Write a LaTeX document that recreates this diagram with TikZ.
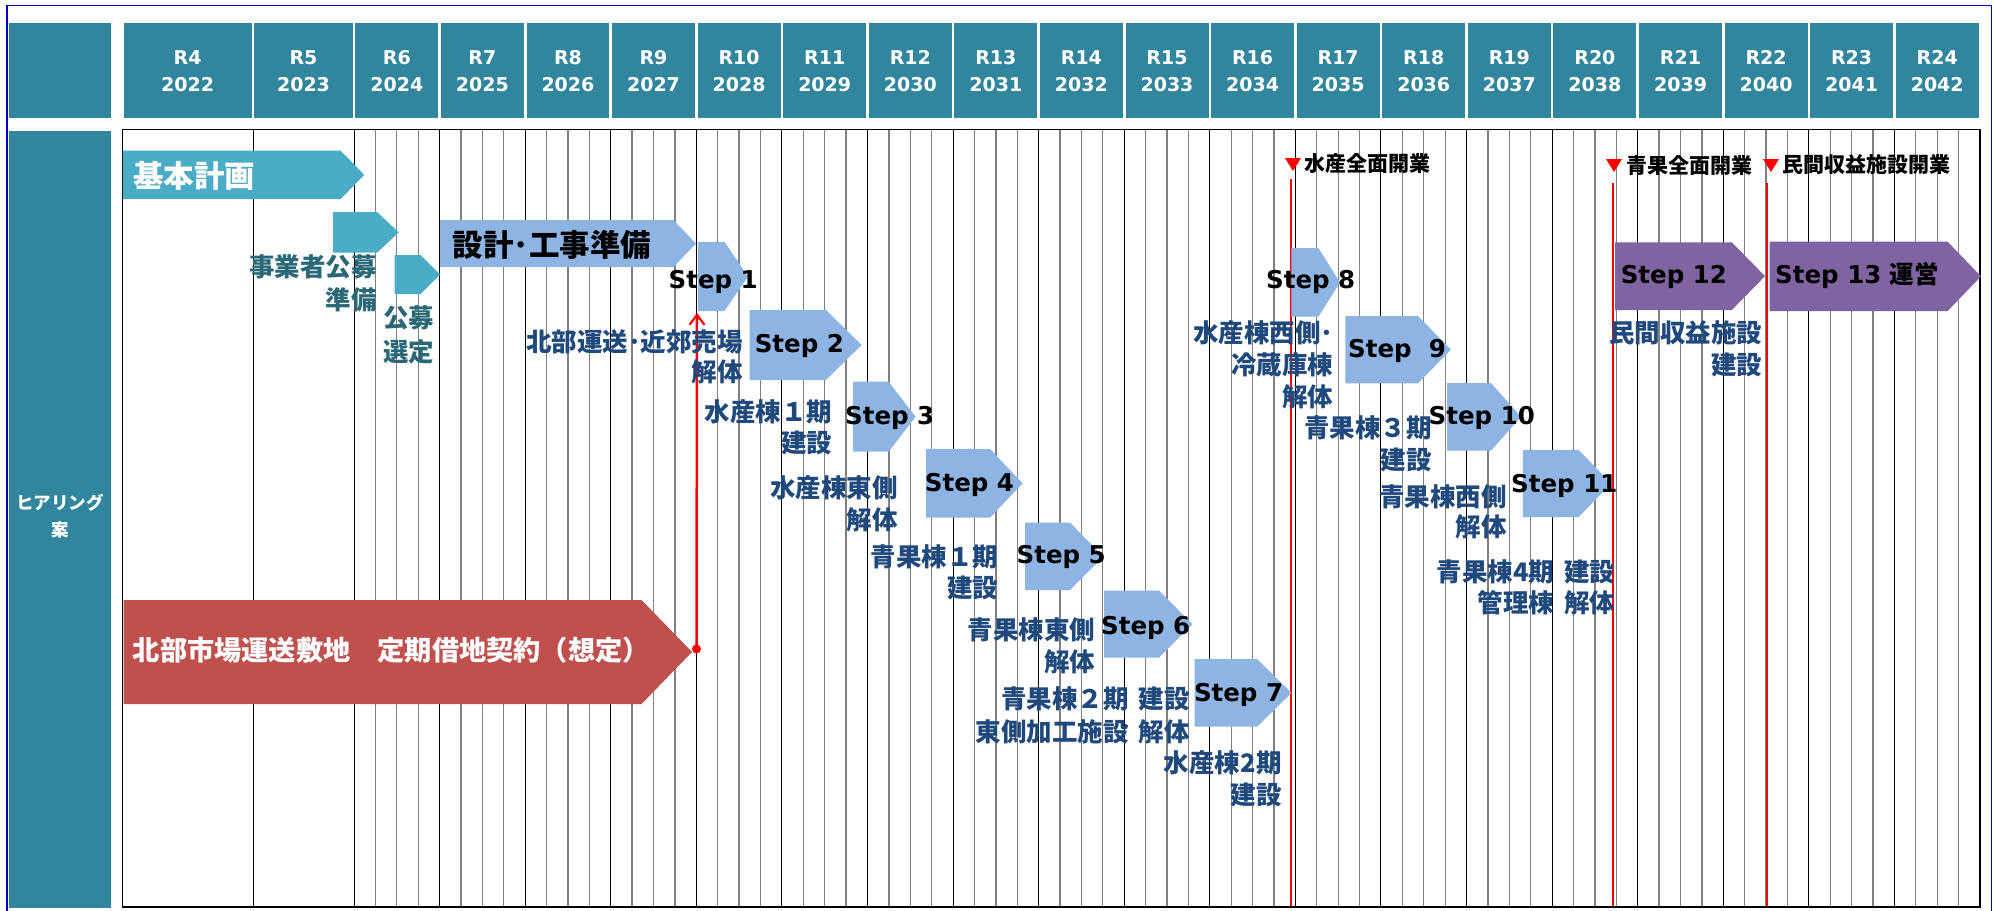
\documentclass[tikz,border=0pt]{standalone}
\usepackage{fontspec}
\setmainfont{DejaVu Sans}
\newfontfamily\jp{Noto Sans CJK JP}
\usetikzlibrary{arrows.meta}
\definecolor{hdrteal}{HTML}{31859C}
\definecolor{planteal}{HTML}{4BACC6}
\definecolor{stepblue}{HTML}{8DB4E2}
\definecolor{steppurple}{HTML}{8064A2}
\definecolor{leasered}{HTML}{C0504D}
\definecolor{labblue}{HTML}{1F497D}
\definecolor{labteal}{HTML}{2A6877}
\definecolor{quartergray}{HTML}{808080}
\definecolor{frameblue}{HTML}{0000C0}
\newcommand\chevshape[6]{\fill[#1] (#2,#3) -- (#5,#3) -- (#6,{(#3+#4)/2}) -- (#5,#4) -- (#2,#4) -- cycle;}
\tikzset{
  yrtxt/.style={text=white, font=\bfseries\fontsize{19}{27}\selectfont, align=center, inner sep=0pt},
  lab/.style={text=labblue, font=\jp\bfseries\fontsize{25.5}{30}\selectfont, inner sep=0pt, anchor=east},
  labt/.style={lab, text=labteal},
  steptxt/.style={text=black, font=\bfseries\fontsize{24.5}{28}\selectfont, inner sep=0pt, anchor=west},
  mile/.style={text=black, font=\jp\bfseries\fontsize{21}{24}\selectfont, inner sep=0pt, anchor=west},
  mileline/.style={draw=red, line width=2.4pt},
  yearline/.style={draw=black, line width=1pt},
  qline/.style={draw=quartergray, line width=1.3pt},
  hdrcell/.style={fill=hdrteal},
}
\begin{document}
\begin{tikzpicture}[x=1pt,y=-1pt]
\useasboundingbox (0,0) rectangle (1993,910);
\fill[white] (0,0) rectangle (1993,910);
% outer border
\draw[frameblue, line width=1.2pt] (7,914) -- (7,5.5) -- (1991.5,5.5) -- (1991.5,914);
% header
\fill[hdrcell] (8.5,23) rectangle (111,118);
\foreach \r/\a/\b in {4/122.3/253, 5/253/354, 6/354/439.6, 7/439.6/525.2, 8/525.2/610.7, 9/610.7/696.3, 10/696.3/781.9, 11/781.9/867.5, 12/867.5/953.1, 13/953.1/1038.6, 14/1038.6/1124.2, 15/1124.2/1209.8, 16/1209.8/1295.4, 17/1295.4/1380.9, 18/1380.9/1466.5, 19/1466.5/1552.1, 20/1552.1/1637.7, 21/1637.7/1723.3, 22/1723.3/1808.8, 23/1808.8/1894.4, 24/1894.4/1980}{
  \fill[hdrcell] ({\a+1.3},23) rectangle ({\b-1.3},118);
  \pgfmathtruncatemacro\yy{2018+\r}
  \node[yrtxt] (yr\r) at ({(\a+\b)/2},71.5) {R\r\\\yy};
}
% left body cell
\fill[hdrcell] (8.5,131) rectangle (111,908);
\node[text=white, font=\jp\bfseries\fontsize{17.5}{27}\selectfont, align=center, inner sep=0pt] (hear) at (60,516.5) {ヒアリング\\案};
% grid
\foreach \k in {1,...,75}{
  \pgfmathtruncatemacro\m{mod(\k,4)}
  \ifnum\m=0\relax\else
    \draw[qline] ({354+\k*85.5789/4},129.5) -- ({354+\k*85.5789/4},906.7);
  \fi
}
\draw[yearline] (253,129.5) -- (253,906.7);
\foreach \k in {0,...,18}{
  \draw[yearline] ({354+\k*85.5789},129.5) -- ({354+\k*85.5789},906.7);
}
\draw[black, line width=1.6pt] (122.3,129.5) rectangle (1980,906.7);
% milestone lines
\draw[mileline] (1291,179) -- (1291,906);
\draw[mileline] (1613,183) -- (1613,906);
\draw[mileline] (1767,183) -- (1767,906);
\fill[red] (1285,158) -- (1301,158) -- (1293,171) -- cycle;
\fill[red] (1606,159) -- (1622,159) -- (1614,172) -- cycle;
\fill[red] (1763,159) -- (1779,159) -- (1771,172) -- cycle;
\node[mile] (m1) at (1303.8,163) {水産全面開業};
\node[mile] (m2) at (1626,165) {青果全面開業};
\node[mile] (m3) at (1782.5,165) {民間収益施設開業};
% shapes
\chevshape{planteal}{122.8}{150.7}{199}{340.7}{364.3}
\chevshape{planteal}{333}{212}{252.7}{377}{398.8}
\chevshape{planteal}{394.6}{255}{294}{420.7}{440}
\chevshape{stepblue}{440}{220}{267}{673.4}{696}
\chevshape{stepblue}{698}{242}{311}{724.5}{748}
\chevshape{stepblue}{749.6}{310}{380}{826}{861.6}
\chevshape{stepblue}{853}{381.7}{451.7}{888.6}{915.6}
\chevshape{stepblue}{926}{449}{517.7}{990}{1022.6}
\chevshape{stepblue}{1025}{522.7}{590}{1070}{1103.3}
\chevshape{stepblue}{1104}{590.7}{657.7}{1159}{1192.4}
\chevshape{stepblue}{1194.6}{659}{726.7}{1257}{1291.5}
\chevshape{stepblue}{1291.4}{248}{316.7}{1318.4}{1340}
\chevshape{stepblue}{1345.4}{316}{383.3}{1418}{1451}
\chevshape{stepblue}{1447}{383}{450.7}{1491}{1521}
\chevshape{stepblue}{1522.8}{450}{517}{1578.7}{1611}
\chevshape{steppurple}{1615}{242.3}{310}{1731.8}{1765}
\chevshape{steppurple}{1769.5}{241.7}{311}{1947.6}{1981}
\chevshape{leasered}{123.7}{600}{704}{641.5}{692}
% red link from lease to step 1
\coordinate (rdot) at (696.5,649);
\coordinate (s1foot) at (697,313);
\draw[red, line width=2.5pt, -{Straight Barb[length=10pt,width=15pt,line width=2.2pt]}] (rdot) -- (s1foot);
\fill[red] (rdot) circle (4.5);
% bar texts
\node[text=white, font=\jp\bfseries\fontsize{30.5}{34}\selectfont, inner sep=0pt, anchor=west] (kihon) at (133,176) {基本計画};
\node[text=black, font=\jp\bfseries\fontsize{30.5}{34}\selectfont, inner sep=0pt, anchor=west] (sekkei) at (452.7,244.5) {設計･工事準備};
\node[text=white, font=\jp\bfseries\fontsize{27.2}{30}\selectfont, inner sep=0pt, anchor=west] (lease) at (132.6,650) {北部市場運送敷地　定期借地契約（想定）};
% step texts
\node[steptxt] (st1) at (668.5,282) {Step 1};
\node[steptxt] (st2) at (754.6,346) {Step 2};
\node[steptxt] (st3) at (845,417.5) {Step 3};
\node[steptxt] (st4) at (924.7,484.5) {Step 4};
\node[steptxt] (st5) at (1016.5,556.5) {Step 5};
\node[steptxt] (st6) at (1101,628) {Step 6};
\node[steptxt] (st7) at (1193.8,695) {Step 7};
\node[steptxt] (st8) at (1266,282) {Step 8};
\node[steptxt] (st9) at (1348,351) {Step\ \ 9};
\node[steptxt] (st10) at (1428.5,418) {Step 10};
\node[steptxt] (st11) at (1511,485.5) {Step 11};
\node[steptxt] (st12) at (1620.6,277) {Step 12};
\node[steptxt] (st13) at (1775,276) {Step 13 {\jp 運営}};
% labels
\node[labt] (la1) at (377,266.7) {事業者公募};
\node[labt] (la2) at (377,300) {準備};
\node[labt, anchor=center] (lb1) at (408.7,318) {公募};
\node[labt, anchor=center] (lb2) at (408.7,351.7) {選定};
\node[lab] (lc1) at (743,341.7) {北部運送･近郊売場};
\node[lab] (lc2) at (743,371.7) {解体};
\node[lab] (ld1) at (832.6,411.7) {水産棟１期};
\node[lab] (ld2) at (832.6,443) {建設};
\node[lab] (le1) at (898,488) {水産棟東側};
\node[lab] (le2) at (898,520) {解体};
\node[lab] (lf1) at (998.5,556.5) {青果棟１期};
\node[lab] (lf2) at (998.5,588) {建設};
\node[lab] (lg1) at (1095.5,630) {青果棟東側};
\node[lab] (lg2) at (1095.5,661.7) {解体};
\node[lab] (lh1) at (1190,699) {青果棟２期\hspace{0.4em}建設};
\node[lab] (lh2) at (1190,731.7) {東側加工施設\hspace{0.4em}解体};
\node[lab] (li1) at (1281.7,762.7) {水産棟2期};
\node[lab] (li2) at (1281.7,795) {建設};
\node[lab] (lj1) at (1333.5,333) {水産棟西側･};
\node[lab] (lj2) at (1333.5,365) {冷蔵庫棟};
\node[lab] (lj3) at (1333.5,396.7) {解体};
\node[lab] (lk1) at (1431.7,428) {青果棟３期};
\node[lab] (lk2) at (1431.7,460) {建設};
\node[lab] (ll1) at (1507,496.7) {青果棟西側};
\node[lab] (ll2) at (1507,526.7) {解体};
\node[lab] (lm1) at (1615.6,571.7) {青果棟4期\hspace{0.4em}建設};
\node[lab] (lm2) at (1615.6,602.7) {管理棟\hspace{0.4em}解体};
\node[lab] (ln1) at (1762.5,333) {民間収益施設};
\node[lab] (ln2) at (1762.5,365) {建設};
\end{tikzpicture}
\end{document}
